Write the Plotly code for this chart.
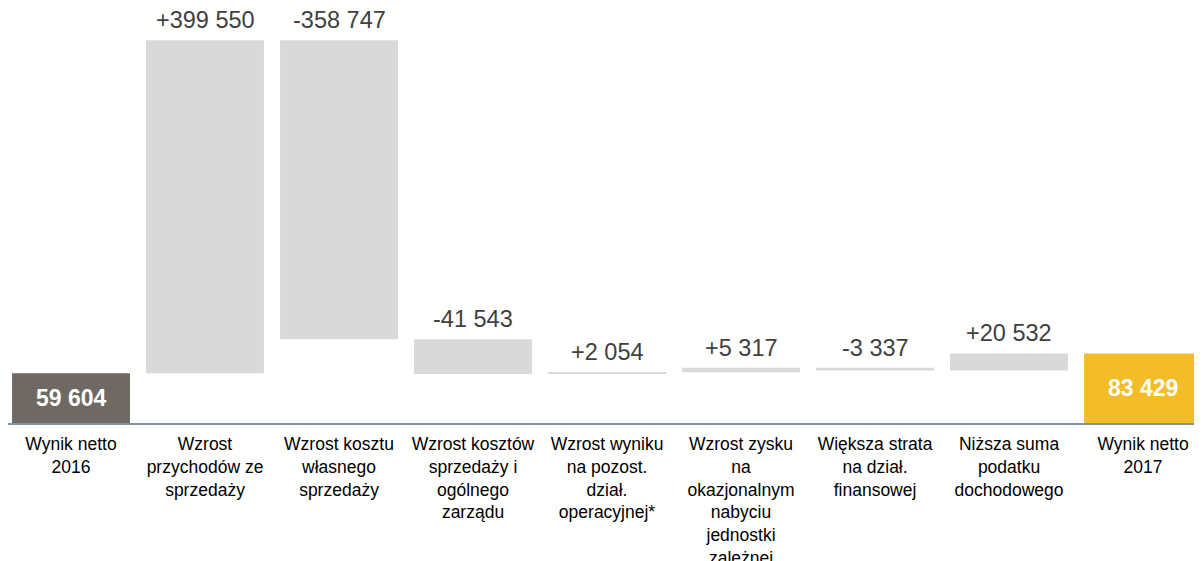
import plotly.graph_objects as go

categories = [
    "Wynik netto<br>2016",
    "Wzrost<br>przychodów ze<br>sprzedaży",
    "Wzrost kosztu<br>własnego<br>sprzedaży",
    "Wzrost kosztów<br>sprzedaży i<br>ogólnego<br>zarządu",
    "Wzrost wyniku<br>na pozost.<br>dział.<br>operacyjnej*",
    "Wzrost zysku<br>na<br>okazjonalnym<br>nabyciu<br>jednostki<br>zależnej",
    "Większa strata<br>na dział.<br>finansowej",
    "Niższa suma<br>podatku<br>dochodowego",
    "Wynik netto<br>2017",
]
deltas = [59604, 399550, -358747, -41543, 2054, 5317, -3337, 20532, 83429]
measures = ["total", "relative", "relative", "relative", "relative", "relative", "relative", "relative", "total"]
labels = ["59 604", "+399 550", "-358 747", "-41 543", "+2 054", "+5 317", "-3 337", "+20 532", "83 429"]
colors = ["#6E6A63", "#D9D9D9", "#D9D9D9", "#D9D9D9", "#D9D9D9", "#D9D9D9", "#D9D9D9", "#D9D9D9", "#F4BC27"]

# compute bases / heights from the waterfall data
bases, heights, tops = [], [], []
running = 0
for d, m in zip(deltas, measures):
    if m == "total":
        base, h = 0, d
        running = d
    else:
        start = running
        running = running + d
        base, h = min(start, running), abs(d)
    bases.append(base)
    heights.append(h)
    tops.append(base + h)

xs = list(range(len(categories)))
FONT = "Liberation Sans, Arial, sans-serif"

fig = go.Figure()
fig.add_trace(go.Bar(
    x=xs, y=heights, base=bases, width=0.88,
    marker=dict(color=colors, line=dict(width=0)),
    hoverinfo="skip", showlegend=False,
))

for i, (m, lab) in enumerate(zip(measures, labels)):
    if m == "total":
        fig.add_annotation(x=i, y=bases[i] + heights[i] / 2, text=f"<b>{lab}</b>",
                           showarrow=False, font=dict(size=23, color="white", family=FONT))
    else:
        fig.add_annotation(x=i, y=tops[i], text=lab, showarrow=False, yanchor="bottom", yshift=5,
                           font=dict(size=23.5, color="#404040", family=FONT))

fig.update_layout(
    width=1194, height=553,
    margin=dict(l=0, r=0, t=0, b=138, autoexpand=False),
    paper_bgcolor="white", plot_bgcolor="white",
    font=dict(family=FONT, size=17.5, color="#000000"),
    xaxis=dict(
        range=[-0.4701, 8.44], tickmode="array", tickvals=xs, ticktext=categories,
        showgrid=False, zeroline=False, showline=True, linecolor="#8093A5", linewidth=2,
        ticks="", tickfont=dict(size=17.5, color="#000000"), automargin=False,
        ticklabelstandoff=4,
    ),
    yaxis=dict(range=[0, 498000], visible=False, showgrid=False, zeroline=False),
)

fig.write_html("out.html")
